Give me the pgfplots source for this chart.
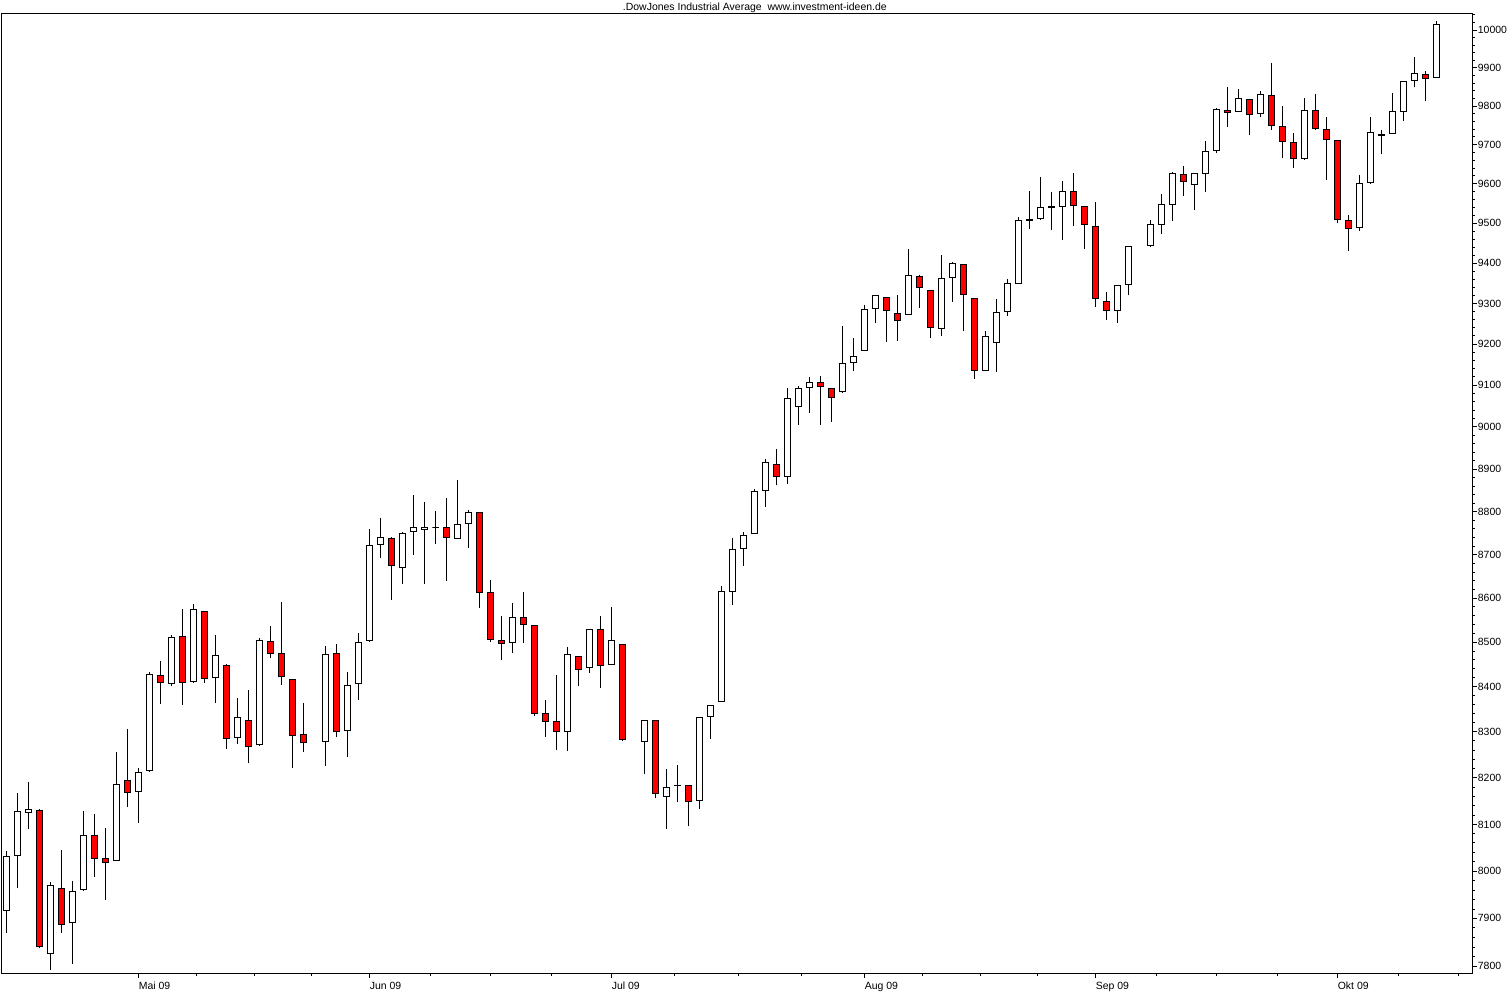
\documentclass[border=0pt]{standalone}
\usepackage{pgfplots}
\pgfplotsset{compat=1.18}
\usepackage{pgfplotstable}
\usepackage{fontspec}
\setmainfont{Liberation Sans}

% weekday index (Apr 15 2009 = 0), open, high, low, close
\pgfplotstableread{
i o h l c
0 7917 8041 7870 8030
1 8033 8167 7964 8127
2 8125 8191 8088 8131
3 8130 8131 7838 7842
4 7827 7977 7793 7970
5 7963 8044 7870 7887
6 7891 7978 7806 7957
7 7961 8128 7958 8076
8 8076 8122 7988 8025
9 8025 8091 7939 8017
10 8022 8256 8020 8186
11 8194 8307 8137 8168
12 8170 8220 8101 8212
13 8216 8433 8213 8427
14 8426 8458 8362 8411
15 8408 8517 8403 8512
16 8514 8576 8359 8411
17 8413 8587 8410 8575
18 8571 8572 8410 8420
19 8422 8517 8365 8470
20 8449 8451 8264 8286
21 8289 8375 8274 8332
22 8326 8393 8231 8269
23 8273 8509 8270 8504
24 8502 8537 8464 8476
25 8475 8592 8405 8423
26 8417 8418 8222 8293
27 8295 8364 8257 8278
29 8280 8493 8226 8473
30 8475 8496 8290 8301
31 8304 8433 8246 8404
32 8408 8521 8370 8500
33 8505 8760 8502 8721
34 8724 8785 8693 8741
35 8738 8740 8597 8676
36 8671 8752 8633 8750
37 8754 8839 8700 8763
38 8759 8823 8633 8764
39 8764 8802 8726 8764
40 8764 8832 8640 8741
41 8738 8874 8736 8771
42 8773 8803 8716 8799
43 8799 8800 8579 8614
44 8614 8641 8500 8506
45 8505 8561 8461 8498
46 8500 8589 8476 8556
47 8557 8614 8498 8541
48 8539 8540 8335 8340
49 8342 8371 8289 8324
50 8324 8426 8261 8301
51 8302 8489 8259 8472
52 8469 8470 8401 8440
53 8444 8531 8431 8530
54 8530 8559 8397 8449
55 8451 8580 8449 8505
56 8496 8497 8281 8283
58 8280 8327 8208 8326
59 8326 8327 8155 8165
60 8160 8219 8089 8178
61 8183 8227 8147 8184
62 8184 8185 8095 8148
63 8151 8334 8132 8332
64 8335 8360 8286 8359
65 8368 8628 8366 8616
66 8616 8738 8586 8712
67 8715 8752 8675 8744
68 8750 8853 8748 8848
69 8850 8923 8812 8916
70 8911 8948 8862 8882
71 8883 9093 8866 9069
72 9050 9098 9006 9093
73 9095 9120 9034 9108
74 9108 9123 9006 9097
75 9093 9094 9013 9072
76 9086 9245 9081 9154
77 9156 9214 9134 9171
78 9185 9295 9183 9286
79 9288 9321 9251 9320
80 9315 9316 9206 9282
81 9276 9322 9209 9257
82 9273 9435 9272 9370
83 9368 9370 9289 9339
84 9333 9334 9216 9242
85 9239 9420 9221 9361
86 9365 9402 9304 9398
87 9397 9398 9231 9322
88 9313 9314 9116 9136
89 9137 9232 9134 9218
90 9205 9310 9132 9279
91 9280 9360 9268 9350
92 9350 9515 9349 9506
93 9506 9583 9485 9509
94 9513 9617 9509 9539
95 9539 9579 9484 9543
96 9543 9607 9459 9580
97 9581 9628 9494 9545
98 9542 9543 9435 9497
99 9492 9553 9292 9312
100 9305 9328 9260 9282
101 9283 9347 9252 9345
102 9347 9443 9320 9441
104 9443 9508 9440 9497
105 9497 9574 9474 9547
106 9548 9630 9507 9627
107 9624 9646 9570 9606
108 9599 9628 9534 9627
109 9627 9710 9580 9683
110 9686 9794 9678 9791
111 9790 9850 9747 9784
112 9786 9844 9784 9820
113 9818 9819 9724 9779
114 9781 9839 9771 9829
115 9828 9913 9739 9749
116 9747 9800 9665 9708
117 9706 9731 9640 9665
118 9665 9820 9662 9789
119 9789 9832 9737 9742
120 9740 9773 9609 9713
121 9711 9712 9500 9510
122 9508 9520 9430 9488
123 9490 9622 9480 9600
124 9604 9771 9601 9731
125 9728 9738 9676 9725
126 9730 9834 9727 9787
127 9786 9866 9763 9864
128 9867 9928 9849 9885
129 9883 9891 9812 9872
130 9875 10023 9874 10015
}\candles

\begin{document}
\begin{tikzpicture}
\useasboundingbox (-1bp,-18bp) rectangle (1509bp,974bp);
\begin{axis}[
  at={(0,0)}, anchor=south west,
  width=1471.7bp, height=960bp, scale only axis,
  xmin=-0.51, xmax=133.28,
  y coord trafo/.code={\pgfmathparse{log10(#1)-3.9}},
  y coord inv trafo/.code={\pgfmathparse{10^(#1+3.9)}},
  ymin=7783.8, ymax=10042.5,
  axis line style={line width=1bp, black},
  xtick={12,33,55,78,99,121},
  xticklabels={Mai 09,Jun 09,Jul 09,Aug 09,Sep 09,Okt 09},
  minor xtick={17.25,22.5,27.75,38.5,44,49.5,60.75,66.5,72.25,83.25,88.5,93.75,104.5,110,115.5,126.5,132},
  ytick={7800,7900,8000,8100,8200,8300,8400,8500,8600,8700,8800,8900,9000,9100,9200,9300,9400,9500,9600,9700,9800,9900,10000},
  yticklabels={7800,7900,8000,8100,8200,8300,8400,8500,8600,8700,8800,8900,9000,9100,9200,9300,9400,9500,9600,9700,9800,9900,10000},
  minor ytick={7800,7820,...,10040},
  xtick pos=bottom, ytick pos=right, yticklabel pos=right,
  tick align=outside,
  major tick length=4bp, minor tick length=2bp,
  every tick/.style={black, line width=1bp},
  every minor tick/.style={black, line width=1bp},
  /pgf/number format/assume math mode=true,
  tick label style={font=\fontsize{10.5}{12}\selectfont},
  xticklabel style={anchor=north west, inner sep=0pt, yshift=-4bp},
  yticklabel style={anchor=west, inner sep=0pt, xshift=1bp},
  title={.DowJones Industrial Average\ \ www.investment-ideen.de},
  title style={font=\fontsize{10.5}{12}\selectfont, at={(0.5,1)}, anchor=base, yshift=-2bp, xshift=18bp, inner sep=0pt},
]
\pgfplotstablegetrowsof{\candles}
\pgfmathtruncatemacro\nrows{\pgfplotsretval-1}
\pgfplotsforeachungrouped \r in {0,...,\nrows}{%
  \pgfplotstablegetelem{\r}{i}\of\candles \let\ci\pgfplotsretval
  \pgfplotstablegetelem{\r}{o}\of\candles \let\co\pgfplotsretval
  \pgfplotstablegetelem{\r}{h}\of\candles \let\ch\pgfplotsretval
  \pgfplotstablegetelem{\r}{l}\of\candles \let\cl\pgfplotsretval
  \pgfplotstablegetelem{\r}{c}\of\candles \let\cc\pgfplotsretval
  \pgfmathsetmacro\xa{\ci-0.29}%
  \pgfmathsetmacro\xb{\ci+0.29}%
  \ifdim\cc pt<\co pt \def\bodycol{red}\else\def\bodycol{white}\fi
  \edef\tmp{\noexpand\addplot[black, line width=1bp, forget plot] coordinates {(\ci,\cl) (\ci,\ch)};
    \noexpand\addplot[draw=black, fill=\bodycol, line width=1bp, forget plot] coordinates {(\xa,\co) (\xb,\co) (\xb,\cc) (\xa,\cc)} -- cycle;}%
  \tmp
}
\end{axis}
\end{tikzpicture}
\end{document}
